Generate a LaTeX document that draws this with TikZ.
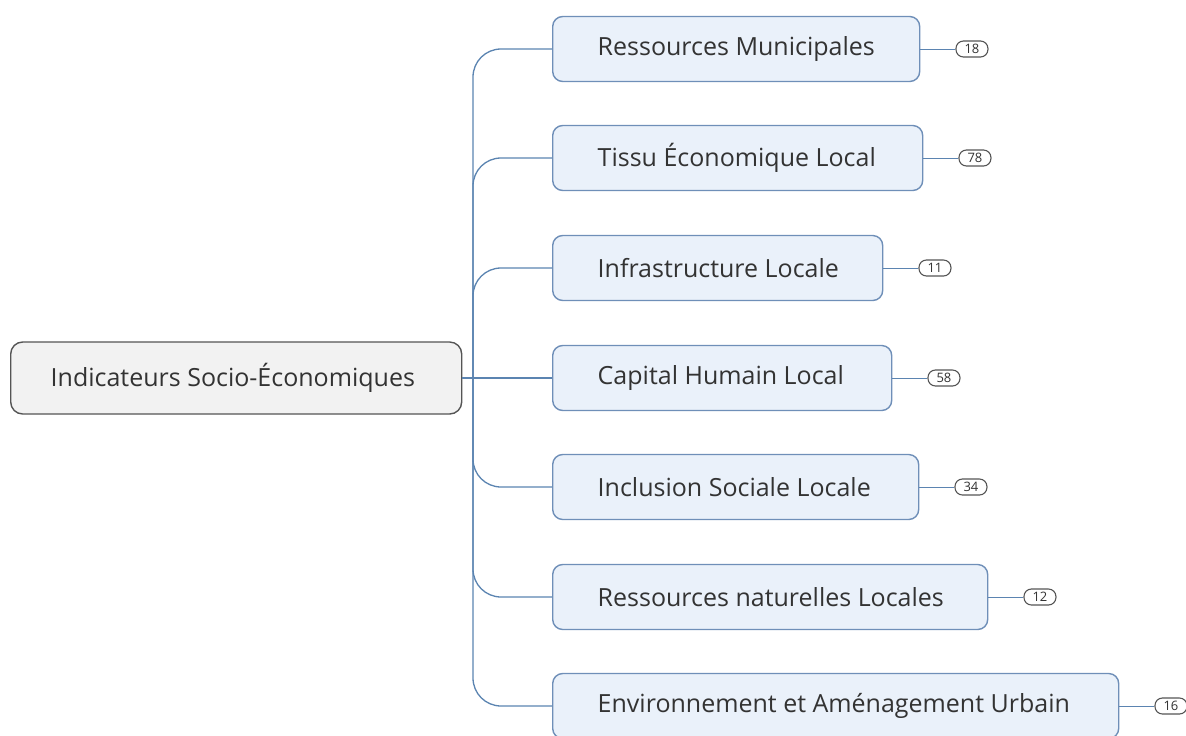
\documentclass[tikz,border=0pt]{standalone}
\usepackage{fontspec}
\setmainfont{Open Sans}
\usetikzlibrary{positioning}
\definecolor{boxfill}{HTML}{EAF1FA}
\definecolor{boxline}{HTML}{6F8FB8}
\definecolor{conn}{HTML}{5B84B1}
\definecolor{txt}{HTML}{333333}
\definecolor{rootfill}{HTML}{F2F2F2}
\definecolor{rootline}{HTML}{555555}
\newcommand{\lbox}[2]{\makebox[#1pt][l]{#2}}
\tikzset{
  x=1pt,y=-1pt,
  child/.style={draw=boxline, fill=boxfill, line width=1.4pt, rounded corners=10pt,
    minimum height=65pt, inner ysep=0pt, inner xsep=45pt, anchor=west, text=txt,
    font=\fontsize{25}{30}\selectfont},
  rootbox/.style={draw=rootline, fill=rootfill, line width=1.4pt, rounded corners=12pt,
    minimum height=72pt, inner ysep=0pt, inner xsep=40pt, anchor=west, text=txt,
    font=\fontsize{25}{30}\selectfont},
  badge/.style={draw=rootline, fill=white, line width=1.1pt, rounded corners=7.5pt,
    minimum width=32pt, minimum height=16pt, inner sep=0pt, text=txt,
    font=\fontsize{13}{15}\selectfont},
  conn/.style={draw=conn, line width=1.3pt},
}
\begin{document}
\begin{tikzpicture}
\useasboundingbox (0,0) rectangle (1186,736);
\node[rootbox] (root) at (10,378) {\lbox{371}{Indicateurs Socio-Économiques}};
\node[child] (c1) at (552,49) {\lbox{277}{Ressources Municipales}};
\node[child] (c2) at (552,158) {\lbox{280}{Tissu Économique Local}};
\node[child] (c3) at (552,268) {\lbox{240}{Infrastructure Locale}};
\node[child] (c4) at (552,378) {\lbox{249}{Capital Humain Local}};
\node[child] (c5) at (552,487) {\lbox{276}{Inclusion Sociale Locale}};
\node[child] (c6) at (552,597) {\lbox{345}{Ressources naturelles Locales}};
\node[child] (c7) at (552,706) {\lbox{476}{Environnement et Aménagement Urbain}};
\coordinate (trunk) at (473,378);
\draw[conn] (root.east) -- (c4.west);
\foreach \i in {1,2,3,5,6,7}{
  \draw[conn, rounded corners=28pt] (trunk) |- (c\i.west);
}
\foreach \i/\n in {1/18,2/78,3/11,4/58,5/34,6/12,7/16}{
  \node[badge, right=35pt of c\i] (b\i) {\n};
  \draw[conn, line width=1pt] (c\i.east) -- (b\i.west);
}
\end{tikzpicture}
\end{document}
